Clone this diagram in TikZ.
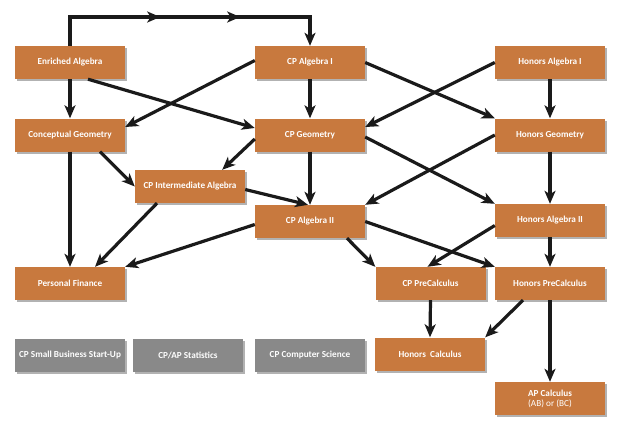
\documentclass[tikz,border=0pt]{standalone}
\usepackage{fontspec}
\setmainfont{Carlito}
\usetikzlibrary{arrows.meta,shadows,decorations.markings}
\definecolor{course}{RGB}{200,121,62}
\definecolor{elective}{RGB}{137,137,137}
\definecolor{conncol}{RGB}{26,26,26}
\tikzset{
  box/.style={rectangle, fill=course, text=white, font=\bfseries\fontsize{9.2}{10.5}\selectfont,
    minimum width=110pt, minimum height=33pt, inner sep=1pt, align=center,
    drop shadow={shadow xshift=2pt, shadow yshift=-2pt, opacity=0.3, fill=black}},
  graybox/.style={box, fill=elective},
  conn/.style={draw=conncol, line width=3.2pt, -{Stealth[length=13pt,width=11pt,inset=3.5pt]}},
  tipmark/.style={postaction={decorate}, decoration={markings,
    mark=at position 119pt with {\arrow{Stealth[length=13pt,width=11pt,inset=3.5pt]}},
    mark=at position 199pt with {\arrow{Stealth[length=13pt,width=11pt,inset=3.5pt]}}}}
}
\begin{document}
\begin{tikzpicture}[x=1pt,y=-1pt]
\useasboundingbox (0,0) rectangle (624,440);
% nodes
\node[box] (EA)   at (70,62.5)   {Enriched Algebra};
\node[box] (CPA1) at (310,62.5)  {CP Algebra I};
\node[box] (HA1)  at (550,62.5)  {Honors Algebra I};
\node[box] (CG)   at (70,135)    {Conceptual Geometry};
\node[box] (CPG)  at (310,135)   {CP Geometry};
\node[box] (HG)   at (550,135)   {Honors Geometry};
\node[box] (CPIA) at (190,186.5) {CP Intermediate Algebra};
\node[box] (CPA2) at (310,221.5) {CP Algebra II};
\node[box] (HA2)  at (550,220.5) {Honors Algebra II};
\node[box] (PF)   at (70,283.5)  {Personal Finance};
\node[box] (CPPC) at (430.5,283.5) {CP PreCalculus};
\node[box] (HPC)  at (550,283.5) {Honors PreCalculus};
\node[graybox] (SB) at (70,355)  {CP Small Business Start-Up};
\node[graybox] (ST) at (188,355) {CP/AP Statistics};
\node[graybox] (CS) at (310,355) {CP Computer Science};
\node[box] (HC)   at (430,354)   {Honors\ \ Calculus};
\node[box] (AP)   at (550,398.5) {AP Calculus\\[-0.5pt]{\mdseries (AB) or (BC)}};
% top route
\coordinate (t1) at (70,17);
\coordinate (t2) at (310,17);
\draw[conn, tipmark] (EA.north) -- (t1) -- (t2) -- (CPA1.north);
% connectors
\draw[conn] (EA.south) -- (CG.north);
\draw[conn] ([xshift=18pt]EA.south) -- ([yshift=7pt]CPG.west);
\draw[conn] ([yshift=2pt]CPA1.west) -- ([yshift=8pt]CG.east);
\draw[conn] (CPA1.south) -- (CPG.north);
\draw[conn] (CPA1.east) -- (HG.north west);
\draw[conn] (HA1.west) -- ([yshift=8pt]CPG.east);
\draw[conn] (HA1.south) -- (HG.north);
\draw[conn] ([xshift=30pt]CG.south) -- (CPIA.west);
\draw[conn] (CG.south) -- (PF.north);
\draw[conn] ([yshift=-4pt]CPG.west) -- ([xshift=-23pt]CPIA.north east);
\draw[conn] (CPG.south) -- (CPA2.north);
\draw[conn] ([yshift=-2pt]CPG.east) -- (HA2.north west);
\draw[conn] (HG.west) -- (CPA2.north east);
\draw[conn] (HG.south) -- (HA2.north);
\draw[conn] ([yshift=-3pt]CPIA.east) -- ([xshift=-2pt]CPA2.north);
\draw[conn] ([xshift=-33pt]CPIA.south) -- ([xshift=25pt]PF.north);
\draw[conn] ([yshift=-3pt]CPA2.west) -- (PF.north east);
\draw[conn] ([xshift=37pt]CPA2.south) -- (CPPC.north west);
\draw[conn] (CPA2.east) -- (HPC.north west);
\draw[conn] ([yshift=-5pt]HA2.west) -- ([xshift=-3pt]CPPC.north);
\draw[conn] (HA2.south) -- (HPC.north);
\draw[conn] (CPPC.south) -- (HC.north);
\draw[conn] ([xshift=-27pt]HPC.south) -- (HC.north east);
\draw[conn] (HPC.south) -- (AP.north);
\end{tikzpicture}
\end{document}
